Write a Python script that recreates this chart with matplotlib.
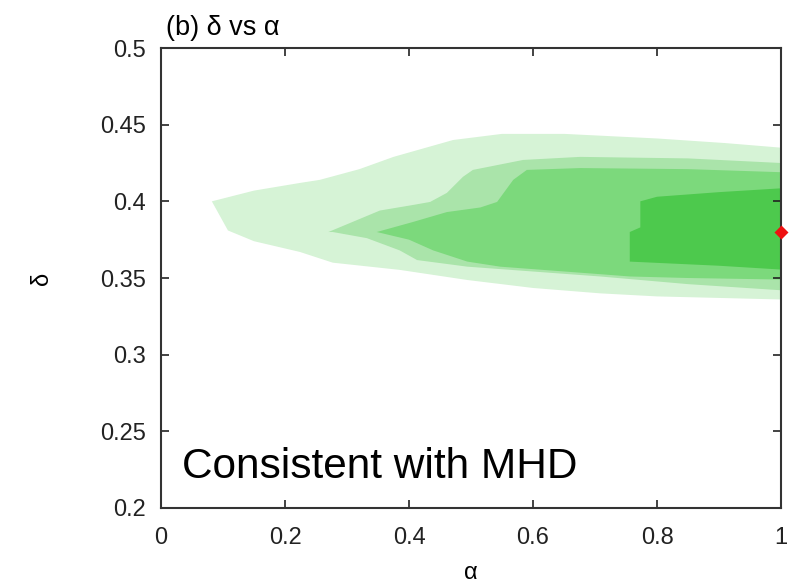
import matplotlib
matplotlib.use('Agg')
import matplotlib.pyplot as plt

plt.rcParams['font.family'] = ['Liberation Sans', 'DejaVu Sans']

# Konturlar (en açıktan en koyuya), üst kenar soldan sağa, alt kenar sağdan sola
lvl1_top_x = [0.082, 0.15, 0.224, 0.256, 0.32, 0.375, 0.471, 0.55, 0.65, 0.80, 0.91, 1.0]
lvl1_top_y = [0.400, 0.407, 0.412, 0.414, 0.421, 0.429, 0.440, 0.444, 0.444, 0.441, 0.438, 0.435]
lvl1_bot_x = [1.0, 0.80, 0.708, 0.60, 0.494, 0.385, 0.277, 0.224, 0.15, 0.108]
lvl1_bot_y = [0.336, 0.338, 0.340, 0.3435, 0.3487, 0.3553, 0.360, 0.367, 0.374, 0.381]

lvl2_top_x = [0.27, 0.353, 0.406, 0.434, 0.461, 0.487, 0.503, 0.584, 0.676, 0.85, 1.0]
lvl2_top_y = [0.380, 0.394, 0.3976, 0.3996, 0.4055, 0.416, 0.4205, 0.427, 0.429, 0.428, 0.425]
lvl2_bot_x = [1.0, 0.85, 0.708, 0.494, 0.413, 0.385, 0.332, 0.277]
lvl2_bot_y = [0.342, 0.346, 0.351, 0.3574, 0.3617, 0.368, 0.376, 0.380]

lvl3_top_x = [0.348, 0.406, 0.461, 0.515, 0.542, 0.568, 0.590, 0.676, 0.85, 1.0]
lvl3_top_y = [0.380, 0.3865, 0.393, 0.396, 0.3996, 0.414, 0.4205, 0.4217, 0.421, 0.419]
lvl3_bot_x = [1.0, 0.85, 0.756, 0.708, 0.547, 0.494, 0.439, 0.40]
lvl3_bot_y = [0.349, 0.350, 0.351, 0.3525, 0.3574, 0.3607, 0.368, 0.375]

lvl4_top_x = [0.756, 0.773, 0.773, 0.80, 0.90, 1.0]
lvl4_top_y = [0.380, 0.383, 0.400, 0.403, 0.406, 0.4085]
lvl4_bot_x = [1.0, 0.90, 0.756]
lvl4_bot_y = [0.3555, 0.358, 0.3607]

level_colors = ['#d6f3d6', '#aae4aa', '#7cd97c', '#4dc94d']

mhd_alpha = [1.0]
mhd_delta = [0.38]

fig = plt.figure(figsize=(7.95, 5.87), dpi=100)
ax = fig.add_axes([0.2025, 0.1346, 0.78, 0.7836])

levels = [
    (lvl1_top_x, lvl1_top_y, lvl1_bot_x, lvl1_bot_y),
    (lvl2_top_x, lvl2_top_y, lvl2_bot_x, lvl2_bot_y),
    (lvl3_top_x, lvl3_top_y, lvl3_bot_x, lvl3_bot_y),
    (lvl4_top_x, lvl4_top_y, lvl4_bot_x, lvl4_bot_y),
]
for (tx, ty, bx, by), c in zip(levels, level_colors):
    ax.fill(tx + bx, ty + by, color=c, lw=0)

ax.plot(mhd_alpha, mhd_delta, 'D', color='#ee1111', ms=7, mec='none', clip_on=False, zorder=5)

ax.set_xlim(0, 1)
ax.set_ylim(0.2, 0.5)
ax.set_xticks([0, 0.2, 0.4, 0.6, 0.8, 1])
ax.set_xticklabels(['0', '0.2', '0.4', '0.6', '0.8', '1'])
ax.set_yticks([0.2, 0.25, 0.3, 0.35, 0.4, 0.45, 0.5])
ax.set_yticklabels(['0.2', '0.25', '0.3', '0.35', '0.4', '0.45', '0.5'])
ax.tick_params(direction='in', length=6, width=1.2, top=True, right=True,
               labelsize=17, colors='#222222')
ax.tick_params(axis='x', pad=14)
ax.tick_params(axis='y', pad=11)
for s in ax.spines.values():
    s.set_linewidth(1.5)
    s.set_color('#333333')

ax.set_xlabel('α', fontsize=17, labelpad=9)
ax.set_ylabel('δ', fontsize=17, labelpad=34)
ax.text(0.008, 1.028, '(b) δ vs α', transform=ax.transAxes, fontsize=19.5, ha='left', va='baseline')
ax.text(0.034, 0.065, 'Consistent with MHD', transform=ax.transAxes, fontsize=30.5,
        ha='left', va='baseline')

fig.savefig('out.png', dpi=100)
